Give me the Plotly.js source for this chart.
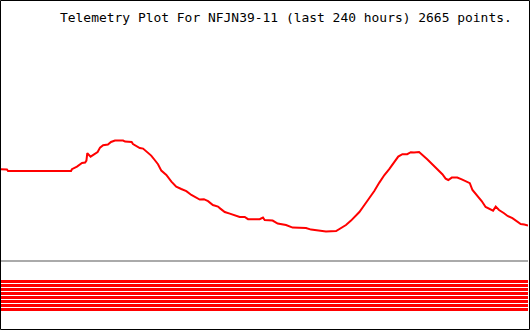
<!DOCTYPE html>
<html>
<head>
<meta charset="utf-8">
<script src="https://cdn.plot.ly/plotly-3.0.1.min.js"></script>
<style>html,body{margin:0;padding:0;background:#fff;}#chart{width:530px;height:330px;}</style>
</head>
<body>
<div id="chart"></div>
<script>
// Telemetry series: hours relative to now, reading value
const hours = [-240.0,-237.3,-236.8,-231.3,-230.9,-229.5,-229.1,-216.8,-216.3,-215.4,-214.5,-213.6,-208.1,-207.7,-205.4,-203.1,-201.7,-201.1,-200.7,-199.2,-197.2,-196.0,-194.9,-193.5,-191.3,-189.9,-188.1,-184.4,-183.5,-180.5,-179.9,-178.4,-176.8,-175.3,-173.8,-171.6,-170.0,-168.5,-167.0,-164.7,-162.4,-160.2,-157.9,-155.6,-153.3,-151.1,-149.5,-147.6,-145.7,-143.5,-141.2,-140.1,-138.1,-135.8,-133.6,-131.3,-129.0,-127.5,-122.2,-120.7,-119.9,-116.3,-114.0,-110.2,-107.2,-101.1,-98.8,-95.0,-92.0,-87.4,-85.2,-82.9,-80.6,-79.1,-76.8,-74.5,-72.3,-70.0,-67.7,-65.4,-63.2,-60.9,-59.1,-57.2,-55.0,-53.4,-51.9,-49.6,-48.1,-45.9,-43.6,-41.3,-39.0,-37.5,-36.3,-34.7,-32.2,-29.9,-27.6,-26.5,-25.3,-23.1,-21.1,-19.3,-17.4,-15.9,-14.7,-13.2,-10.9,-9.3,-7.1,-4.8,-3.3,-1.7,0.0];
const readings = [45.9,45.8,45.0,45.0,44.7,44.7,45.0,45.0,44.7,45.0,44.7,45.0,45.0,45.9,47.2,49.0,49.2,50.2,53.9,52.2,53.5,54.5,56.7,57.9,58.2,59.5,60.2,60.2,59.7,59.5,58.5,57.7,56.5,56.2,54.7,52.7,50.5,48.4,45.2,43.0,39.7,37.2,36.0,34.9,33.0,31.7,30.7,30.9,29.9,28.0,27.2,26.2,24.5,23.7,23.0,22.0,22.0,20.9,20.9,21.7,20.5,20.2,18.7,18.0,16.7,16.5,15.7,15.2,14.7,15.0,16.4,18.0,20.2,22.0,24.5,28.0,31.4,35.0,39.2,43.0,45.9,49.7,52.2,53.4,53.4,54.4,54.2,54.5,53.2,50.9,48.4,46.0,43.4,41.2,40.5,41.7,41.7,40.7,39.5,38.9,35.5,32.7,30.0,27.0,25.9,25.2,27.2,25.5,23.9,22.5,21.4,19.7,18.5,18.2,17.8];
// Status flag rows (all set over the whole window)
const flagRows = [1,2,3,4,5,6,7,8];
const windowHours = [-240, 0];
const titleText = "Telemetry Plot For NFJN39-11 (last 240 hours) 2665 points.";

const traces = [];
flagRows.forEach(function(r){
  traces.push({x: windowHours, y: [r, r], yaxis: 'y2', mode: 'lines',
    line: {color: '#ff0000', width: 3}, hoverinfo: 'skip'});
});
traces.push({x: hours, y: readings, mode: 'lines', line: {color: '#ff0000', width: 2}});

const layout = {
  width: 530, height: 330,
  margin: {l: 1, r: 2, t: 0, b: 0, pad: 0},
  paper_bgcolor: '#ffffff', plot_bgcolor: '#ffffff',
  showlegend: false,
  xaxis: {range: [-240, 0], showgrid: false, zeroline: false, showticklabels: false, ticks: '', showline: false, fixedrange: true},
  yaxis: {range: [-34.5, 130.5], showgrid: false, showticklabels: false, ticks: '', showline: false,
    zeroline: true, zerolinecolor: '#aaaaaa', zerolinewidth: 2, fixedrange: true},
  yaxis2: {range: [-4.125, 78.375], overlaying: 'y', visible: false, fixedrange: true},
  shapes: [{type: 'rect', xref: 'paper', yref: 'paper', x0: -0.5/527, x1: 528.5/527, y0: 0.5/330, y1: 329.5/330,
    line: {color: '#000000', width: 1}, fillcolor: 'rgba(0,0,0,0)', layer: 'above'}],
  annotations: [{text: titleText, xref: 'paper', yref: 'paper', x: 57/527, y: (330-17.5)/330,
    xanchor: 'left', yanchor: 'middle', showarrow: false,
    font: {family: 'DejaVu Sans Mono, monospace', size: 12.95, color: '#000000'}}]
};
Plotly.newPlot('chart', traces, layout, {displayModeBar: false, staticPlot: true});
</script>
</body>
</html>
